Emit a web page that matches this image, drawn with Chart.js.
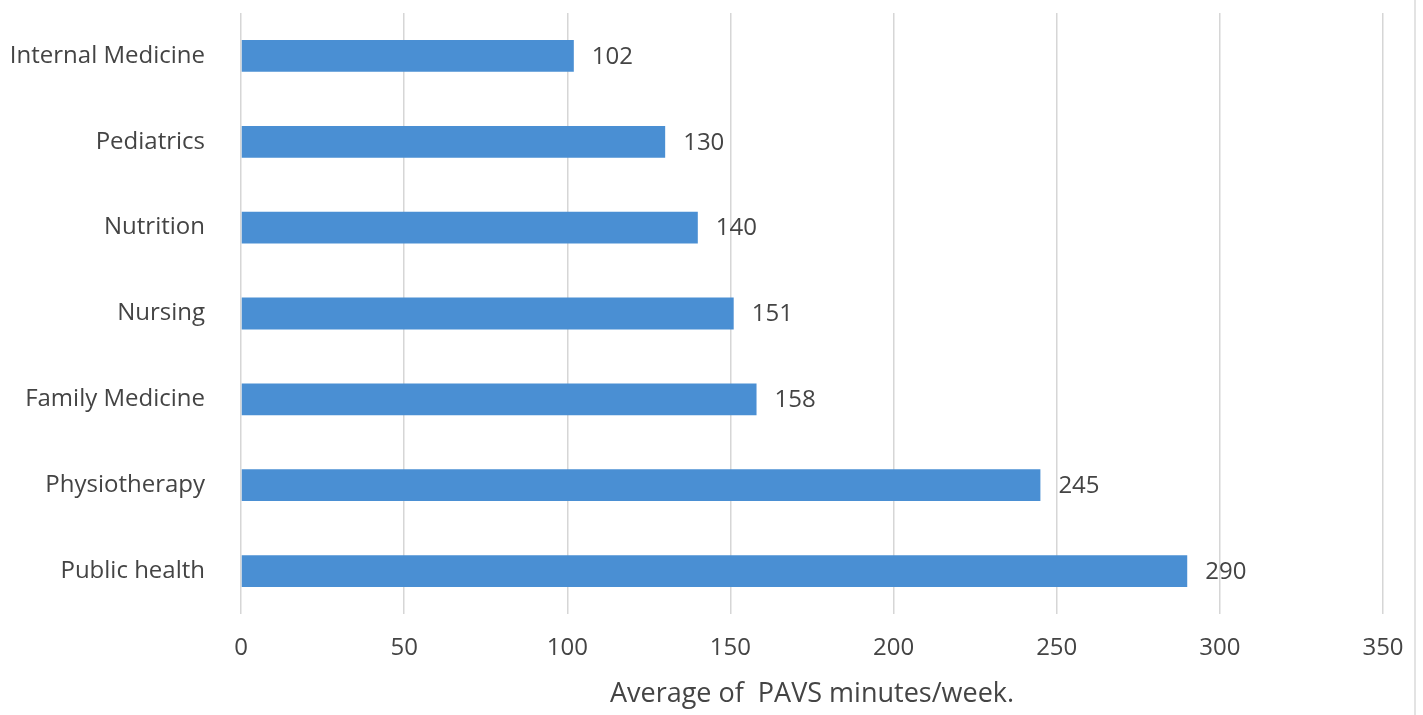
<!DOCTYPE html>
<html>
<head>
<meta charset="utf-8">
<script src="https://cdn.jsdelivr.net/npm/chart.js@4.4.0/dist/chart.umd.min.js"></script>
<style>
  html, body { margin: 0; padding: 0; background: #fff; }
  #wrap { width: 1414px; height: 715px; border-right: 2px solid #e3e3e3; }
</style>
</head>
<body>
<div id="wrap"><canvas id="myChart" width="1414" height="715"></canvas></div>
<script>
var categories = ['Internal Medicine', 'Pediatrics', 'Nutrition', 'Nursing', 'Family Medicine', 'Physiotherapy', 'Public health'];
var minutes = [102, 130, 140, 151, 158, 245, 290];
var axisTitle = 'Average of  PAVS minutes/week.';

var textColor = '#444444';
var fontFamily = '"Open Sans", "Noto Sans", sans-serif';

// writes each bar's value just past its end
var valueLabels = {
    id: 'valueLabels',
    afterDatasetsDraw: function(chart) {
        var c = chart.ctx;
        var meta = chart.getDatasetMeta(0);
        c.save();
        c.font = '24px ' + fontFamily;
        c.fillStyle = textColor;
        c.textAlign = 'left';
        c.textBaseline = 'middle';
        meta.data.forEach(function(bar, i) {
            c.fillText(String(minutes[i]), bar.x + 18, bar.y + 1);
        });
        c.restore();
    }
};

var ctx = document.getElementById('myChart').getContext('2d');
var myChart = new Chart(ctx, {
    type: 'bar',
    data: {
        labels: categories,
        datasets: [{
            label: 'PAVS',
            data: minutes,
            backgroundColor: '#4a8fd3',
            borderWidth: 0,
            categoryPercentage: 1,
            barPercentage: 0.37
        }]
    },
    options: {
        indexAxis: 'y',
        responsive: false,
        animation: false,
        layout: { padding: { left: 0, right: 31, top: 13, bottom: 0 } },
        plugins: {
            legend: { display: false },
            tooltip: { enabled: false }
        },
        scales: {
            x: {
                min: 0,
                max: 350,
                ticks: {
                    stepSize: 50,
                    padding: 20,
                    color: textColor,
                    font: { family: fontFamily, size: 24 }
                },
                grid: { color: '#d6d6d6', lineWidth: 1.5, drawTicks: false },
                border: { display: false },
                title: {
                    display: true,
                    text: axisTitle,
                    color: textColor,
                    font: { family: fontFamily, size: 27 },
                    padding: { top: 0, bottom: 4 }
                },
                afterFit: function(scale) {
                    scale.height = 101;
                    scale.paddingLeft = 0;
                    scale.paddingRight = 0;
                }
            },
            y: {
                ticks: {
                    padding: 28,
                    color: textColor,
                    font: { family: fontFamily, size: 24 }
                },
                grid: { display: false },
                border: { display: false },
                afterFit: function(scale) {
                    scale.width = 241;
                    scale.paddingTop = 0;
                    scale.paddingBottom = 0;
                }
            }
        }
    },
    plugins: [valueLabels]
});
</script>
</body>
</html>
